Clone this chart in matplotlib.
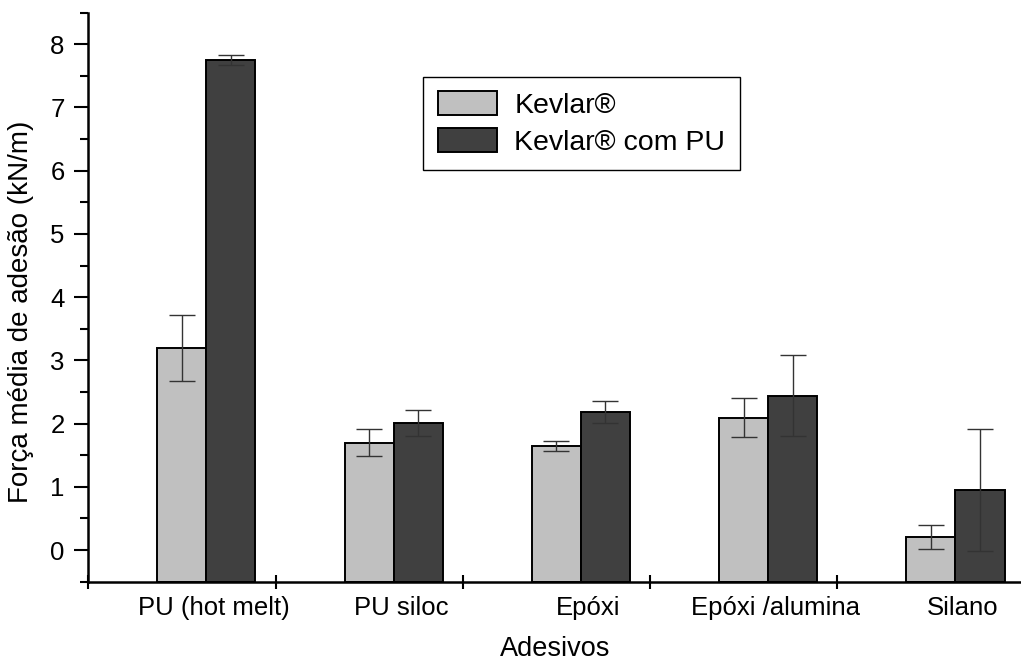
import numpy as np
import matplotlib.pyplot as plt
from matplotlib.ticker import MultipleLocator

# valores (kN/m)
adesivos = ['PU (hot melt)', 'PU siloc', 'Epóxi', 'Epóxi /alumina', 'Silano']
kevlar = [3.20, 1.70, 1.64, 2.09, 0.21]
kevlar_err = [0.52, 0.22, 0.08, 0.31, 0.19]
kevlar_pu = [7.75, 2.01, 2.18, 2.44, 0.95]
kevlar_pu_err = [0.08, 0.20, 0.17, 0.64, 0.97]

plt.rcParams['font.family'] = ['Liberation Sans', 'DejaVu Sans']
plt.rcParams['font.size'] = 18

fig = plt.figure(figsize=(10.21, 6.67), dpi=100)
ax = fig.add_axes([0.0865, 0.128, 0.9135, 0.853])

ymin = -0.5
x = np.arange(len(adesivos)) + 0.63
w = 0.262
ekw = dict(ecolor='#333333', elinewidth=1, capsize=9.5, capthick=1)

# as barras partem do eixo (y = -0.5), como no original
ax.bar(x - w / 2, np.array(kevlar) - ymin, w, bottom=ymin, color='#c0c0c0',
       edgecolor='black', linewidth=1.4, label='Kevlar®')
ax.bar(x + w / 2, np.array(kevlar_pu) - ymin, w, bottom=ymin, color='#404040',
       edgecolor='black', linewidth=1.4, label='Kevlar® com PU')
ax.errorbar(x - w / 2, kevlar, yerr=kevlar_err, fmt='none', **ekw)
ax.errorbar(x + w / 2, kevlar_pu, yerr=kevlar_pu_err, fmt='none', **ekw)

ax.set_xlim(0, 4.98)
ax.set_ylim(ymin, 8.5)

# ticks do eixo x: marcas entre grupos, rotulos nos grupos
ax.set_xticks(range(5), [''] * 5)
ax.set_xticks(x + 0.04, adesivos, minor=True)
ax.tick_params(axis='x', which='major', direction='inout', length=10, width=1.5)
ax.tick_params(axis='x', which='minor', length=0, pad=10, labelsize=18.5)

ax.yaxis.set_major_locator(MultipleLocator(1))
ax.yaxis.set_minor_locator(MultipleLocator(0.5))
ax.tick_params(axis='y', which='major', length=10, width=1.5, pad=7, labelsize=18.5)
ax.tick_params(axis='y', which='minor', length=5.5, width=1.5)

for s in ['top', 'right']:
    ax.spines[s].set_visible(False)
for s in ['left', 'bottom']:
    ax.spines[s].set_linewidth(1.8)

ax.set_xlabel('Adesivos', fontsize=19.5, labelpad=12)
ax.set_ylabel('Força média de adesão (kN/m)', fontsize=20)
ax.yaxis.set_label_coords(-0.058, 0.474)

leg = ax.legend(loc='upper left', bbox_to_anchor=(0.4146, 0.885),
                bbox_transform=fig.transFigure, fancybox=False,
                edgecolor='black', framealpha=1, borderpad=0.5,
                fontsize=20.5, handlelength=2.1, handleheight=0.95,
                handletextpad=0.6, labelspacing=0.3, borderaxespad=0)
leg.get_frame().set_linewidth(1.0)

fig.savefig('out.png', dpi=100)
